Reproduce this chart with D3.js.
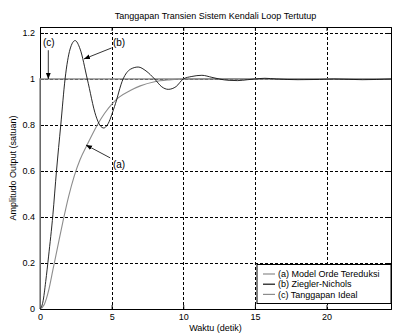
<!DOCTYPE html>
<html>
<head>
<meta charset="utf-8">
<script src="https://cdn.jsdelivr.net/npm/d3@7"></script>
<style>
  body { margin: 0; background: #fff; }
  svg { display: block; font-family: "Liberation Sans", Arial, sans-serif; }
  .grid line { stroke: #000; stroke-width: 1; stroke-dasharray: 3,2; }
</style>
</head>
<body>
<div id="chart"></div>
<script>
// Data
const xTicks = [0, 5, 10, 15, 20];
const yTicks = [0, 0.2, 0.4, 0.6, 0.8, 1, 1.2];

// (a) Model Orde Tereduksi
const seriesA = [
    [0, 0], [0.3, 0.02], [0.6, 0.08], [0.9, 0.17], [1.2, 0.26], [1.6, 0.38],
    [2.0, 0.49], [2.4, 0.58], [2.8, 0.65], [3.3, 0.715], [4.0, 0.8], [4.5, 0.85],
    [5.0, 0.89], [5.5, 0.92], [6.3, 0.95], [7.0, 0.97], [8.0, 0.988], [9.0, 0.996],
    [10.0, 1.0], [12.0, 1.001], [15.0, 1.0], [24.5, 1.0]
];

// (b) Ziegler-Nichols
const seriesB = [
    [0, 0], [0.2, 0.03], [0.4, 0.12], [0.6, 0.23], [0.9, 0.41], [1.15, 0.6],
    [1.45, 0.8], [1.75, 1.0], [2.1, 1.13], [2.45, 1.167], [2.8, 1.13], [3.3, 1.0],
    [3.9, 0.84], [4.2, 0.797], [4.45, 0.787], [4.7, 0.8], [5.2, 0.88], [5.8, 1.0],
    [6.3, 1.042], [6.85, 1.052], [7.4, 1.035], [8.0, 1.0], [8.5, 0.966], [8.95, 0.955],
    [9.5, 0.967], [10.0, 1.0], [10.6, 1.011], [11.3, 1.016], [12.0, 1.007], [12.5, 1.0],
    [13.2, 0.994], [13.8, 0.993], [14.5, 0.997], [15.0, 1.0], [15.7, 1.003], [16.5, 1.0],
    [18.0, 0.997], [19.5, 0.998], [20.5, 1.0], [22.5, 0.997], [24.5, 1.0]
];

// (c) Tanggapan Ideal
const seriesC = [[0, 0], [0, 1], [24.5, 1]];

const legendLabels = ['(a) Model Orde Tereduksi', '(b) Ziegler-Nichols', '(c) Tanggapan Ideal'];
const legendColors = ['#8c8c8c', '#111', '#8c8c8c'];

// Annotation labels with their arrows (data coordinates)
const notes = [
    { label: '(c)', tx: 0.62, ty: 1.143, anchor: 'middle', from: [0.58, 1.125], to: [0.58, 1.0] },
    { label: '(b)', tx: 5.09, ty: 1.143, anchor: 'start', from: [5.0, 1.135], to: [3.07, 1.087] },
    { label: '(a)', tx: 5.09, ty: 0.613, anchor: 'start', from: [4.9, 0.657], to: [3.21, 0.713] }
];

const width = 393;
const height = 333;
const margin = { top: 27, right: 2, bottom: 24, left: 40 };

const svg = d3.select('#chart')
    .append('svg')
    .attr('width', width)
    .attr('height', height);

const x = d3.scaleLinear().domain([0, 24.5]).range([margin.left, width - margin.right]);
const y = d3.scaleLinear().domain([0, 1.226]).range([height - margin.bottom, margin.top]);

svg.append('defs').append('marker')
    .attr('id', 'arrow')
    .attr('viewBox', '0 0 10 10')
    .attr('refX', 10).attr('refY', 5)
    .attr('markerWidth', 6).attr('markerHeight', 6)
    .attr('markerUnits', 'userSpaceOnUse')
    .attr('orient', 'auto')
    .append('path')
    .attr('d', 'M0,1 L10,5 L0,9 Z')
    .attr('fill', '#000');

// Grid
const grid = svg.append('g').attr('class', 'grid');
grid.selectAll('.gx')
    .data(xTicks.filter(d => d > 0))
    .enter().append('line')
    .attr('x1', d => Math.round(x(d)) + 0.5).attr('x2', d => Math.round(x(d)) + 0.5)
    .attr('y1', y.range()[1]).attr('y2', y.range()[0]);
grid.selectAll('.gy')
    .data(yTicks.filter(d => d > 0))
    .enter().append('line')
    .attr('x1', x.range()[0]).attr('x2', x.range()[1])
    .attr('y1', d => Math.round(y(d)) + 0.5).attr('y2', d => Math.round(y(d)) + 0.5);

// Axes
svg.append('g')
    .attr('transform', `translate(0,${y.range()[0]})`)
    .call(d3.axisBottom(x).tickValues(xTicks).tickSize(-4).tickPadding(5).tickFormat(d3.format('d')));
svg.append('g')
    .attr('transform', `translate(${x.range()[0]},0)`)
    .call(d3.axisLeft(y).tickValues(yTicks).tickSize(-4).tickPadding(5).tickFormat(d => d === 0 || d === 1 ? d : d3.format('.1f')(d)));
svg.append('g')
    .attr('transform', `translate(0,${y.range()[1]})`)
    .call(d3.axisTop(x).tickValues(xTicks).tickSize(-4).tickFormat(''));
svg.append('g')
    .attr('transform', `translate(${x.range()[1]},0)`)
    .call(d3.axisRight(y).tickValues(yTicks).tickSize(-4).tickFormat(''));

svg.selectAll('.domain').attr('stroke', '#000');
svg.selectAll('.tick line').attr('stroke', '#000');
svg.selectAll('.tick text').attr('font-size', 9).attr('fill', '#000').attr('font-family', '"Liberation Sans", Arial, sans-serif');

// Lines
const line = d3.line().x(d => x(d[0])).y(d => y(d[1])).curve(d3.curveMonotoneX);
const lineStraight = d3.line().x(d => x(d[0])).y(d => y(d[1]));

svg.append('path').datum(seriesC)
    .attr('d', lineStraight).attr('fill', 'none')
    .attr('stroke', '#8c8c8c').attr('stroke-width', 1.5);
svg.append('path').datum(seriesA)
    .attr('d', line).attr('fill', 'none')
    .attr('stroke', '#8c8c8c').attr('stroke-width', 1.1);
svg.append('path').datum(seriesB)
    .attr('d', line).attr('fill', 'none')
    .attr('stroke', '#111').attr('stroke-width', 0.9);

// Annotations
const note = svg.append('g').selectAll('g').data(notes).enter().append('g');
note.append('line')
    .attr('x1', d => x(d.from[0])).attr('y1', d => y(d.from[1]))
    .attr('x2', d => x(d.to[0])).attr('y2', d => y(d.to[1]))
    .attr('stroke', '#000').attr('stroke-width', 0.8)
    .attr('marker-end', 'url(#arrow)');
note.append('text')
    .attr('x', d => x(d.tx)).attr('y', d => y(d.ty))
    .attr('text-anchor', d => d.anchor)
    .attr('font-size', 10)
    .text(d => d.label);

// Legend
const legend = svg.append('g');
legend.append('rect')
    .attr('x', 257).attr('y', 264.5).attr('width', 134).attr('height', 39)
    .attr('fill', '#fff').attr('stroke', '#000').attr('stroke-width', 1);
const entry = legend.selectAll('g').data(legendLabels).enter().append('g')
    .attr('transform', (d, i) => `translate(0,${274 + i * 10.2})`);
entry.append('line')
    .attr('x1', 263).attr('x2', 275)
    .attr('stroke', (d, i) => legendColors[i]).attr('stroke-width', 1.2);
entry.append('text')
    .attr('x', 278).attr('y', 3.2)
    .attr('font-size', 9)
    .text(d => d);

// Title and axis labels
svg.append('text')
    .attr('x', (x.range()[0] + x.range()[1]) / 2).attr('y', 19)
    .attr('text-anchor', 'middle').attr('font-size', 9)
    .text('Tanggapan Transien Sistem Kendali Loop Tertutup');
svg.append('text')
    .attr('x', (x.range()[0] + x.range()[1]) / 2).attr('y', 330.5)
    .attr('text-anchor', 'middle').attr('font-size', 9)
    .text('Waktu (detik)');
svg.append('text')
    .attr('transform', `translate(16,${(y.range()[0] + y.range()[1]) / 2}) rotate(-90)`)
    .attr('text-anchor', 'middle').attr('font-size', 9)
    .text('Amplitudo Output (satuan)');
</script>
</body>
</html>
